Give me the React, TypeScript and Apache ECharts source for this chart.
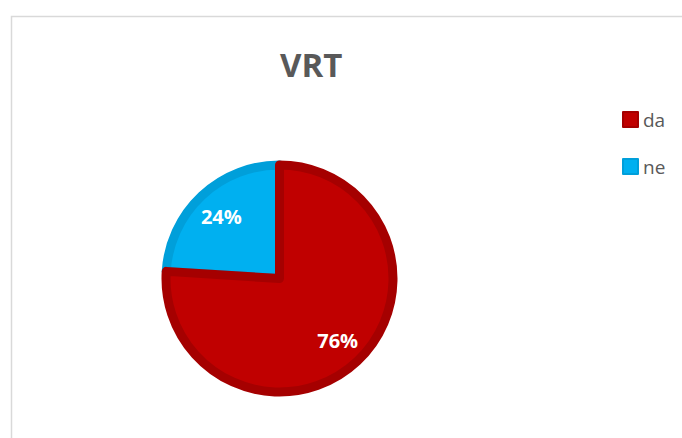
import React, { useEffect, useRef } from "react";
import * as echarts from "echarts";

const categories = ["da", "ne"];
const values = [76, 24];
const colors = ["#C00000", "#00B0F0"];
const borderColors = ["#A50000", "#009FDA"];
const titleText = "VRT";

export default function App() {
  const ref = useRef<HTMLDivElement>(null);
  useEffect(() => {
    if (!ref.current) return;
    const chart = echarts.init(ref.current, undefined, { renderer: "svg" });
    // drawn counter-clockwise in reverse order so "da" is painted on top
    const order = categories.map((_, i) => i).reverse();
    const data = order.map((i) => ({
      name: categories[i],
      value: values[i],
      itemStyle: { color: colors[i], borderColor: borderColors[i], borderWidth: 9 },
    }));
    const labelData = order.map((i) => ({ name: categories[i], value: values[i] }));
    chart.setOption({
      animation: false,
      backgroundColor: "#ffffff",
      title: {
        text: titleText,
        left: 275,
        top: 43,
        textStyle: {
          fontFamily: "Open Sans",
          fontWeight: "bold",
          fontSize: 33,
          color: "#595959",
        },
      },
      legend: {
        data: categories,
        orient: "vertical",
        left: 617,
        top: 105,
        itemWidth: 15,
        itemHeight: 15,
        itemGap: 28,
        icon: "rect",
        textStyle: { fontFamily: "Open Sans", fontSize: 19, lineHeight: 15, color: "#595959" },
      },
      graphic: [
        {
          type: "rect",
          shape: { x: 11.5, y: 16.5, width: 800, height: 600 },
          style: { fill: "none", stroke: "#D9D9D9", lineWidth: 1.5 },
          silent: true,
          z: -10,
        },
      ],
      series: [
        {
          type: "pie",
          center: [279.5, 278.5],
          radius: [0, 113.5],
          startAngle: 90,
          clockwise: false,
          label: { show: false },
          labelLine: { show: false },
          data,
          silent: true,
        },
        {
          type: "pie",
          center: [279.5, 278.5],
          radius: [46, 118],
          startAngle: 90,
          clockwise: false,
          silent: true,
          itemStyle: { color: "transparent", borderWidth: 0 },
          label: {
            show: true,
            position: "inside",
            formatter: (p: any) => `${p.value}%`,
            fontFamily: "Open Sans",
            fontWeight: "bold",
            fontSize: 20,
            color: "#ffffff",
          },
          labelLine: { show: false },
          data: labelData,
        },
      ],
    });
    return () => chart.dispose();
  }, []);
  return (
    <div
      ref={ref}
      style={{ position: "absolute", left: 0, top: 0, width: 682, height: 438 }}
    />
  );
}
